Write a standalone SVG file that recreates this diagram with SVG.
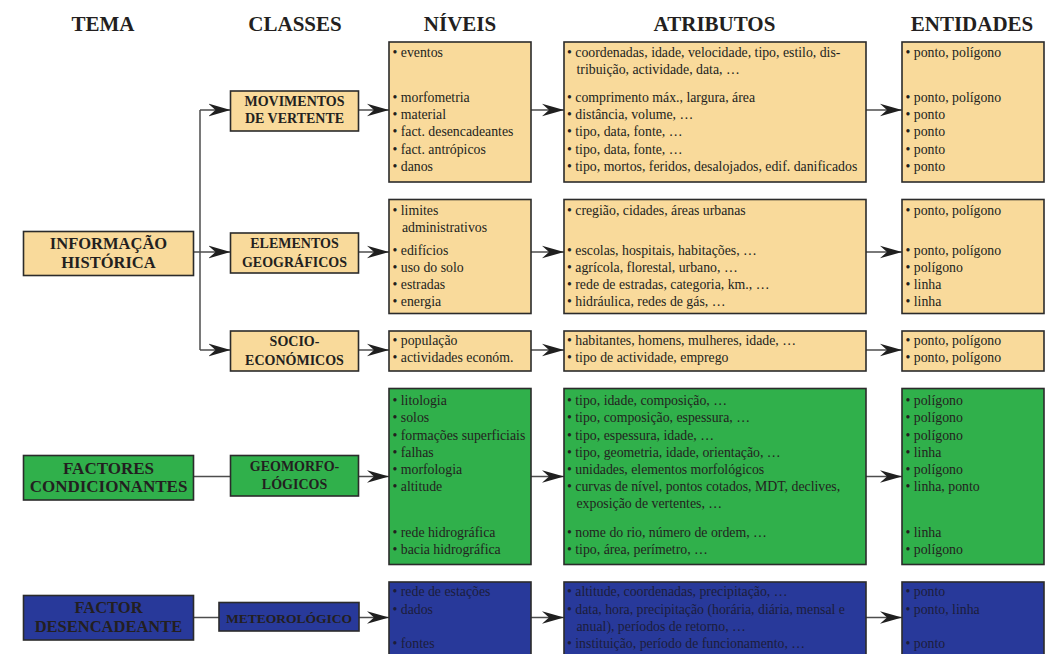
<svg xmlns="http://www.w3.org/2000/svg" width="1047" height="654" viewBox="0 0 1047 654">
<style>
.hdr{font-family:'Liberation Serif',serif;font-weight:bold;font-size:21px;fill:#231f20;text-anchor:middle}
.th{font-family:'Liberation Serif',serif;font-weight:bold;font-size:16.5px;fill:#231f20;text-anchor:middle}
.cl{font-family:'Liberation Serif',serif;font-weight:bold;font-size:14px;fill:#231f20;text-anchor:middle}
.t{font-family:'Liberation Serif',serif;font-size:13.8px;fill:#231f20}
.tb{font-family:'Liberation Serif',serif;font-size:13.8px;fill:#1c1d3a}
.y{fill:#F9DA9B;stroke:#2b2b2b;stroke-width:1.6}
.g{fill:#30B04B;stroke:#2b2b2b;stroke-width:1.6}
.b{fill:#28399A;stroke:#2b2b2b;stroke-width:1.6}
.c{stroke:#4d4d4d;stroke-width:1.5;fill:none}
.a{marker-end:url(#ah)}
</style>
<defs>
<marker id="ah" markerUnits="userSpaceOnUse" markerWidth="24" markerHeight="14" refX="22" refY="7" orient="auto">
<path d="M0,0.7 L22,7 L0,13.3 L7,7 Z" fill="#1f1f1f"/>
</marker>
</defs>

<g id="headers">
<text class="hdr" x="103" y="31">TEMA</text>
<text class="hdr" x="295" y="31">CLASSES</text>
<text class="hdr" x="460" y="31">NÍVEIS</text>
<text class="hdr" x="714.5" y="31">ATRIBUTOS</text>
<text class="hdr" x="972" y="31">ENTIDADES</text>
</g>

<g id="connectors">
<path class="c" d="M200,110 V350"/>
<path class="c a" d="M193,252 H230.5"/>
<path class="c a" d="M200,110 H230.5"/>
<path class="c a" d="M200,350 H230.5"/>
<path class="c a" d="M358.5,110 H389"/>
<path class="c a" d="M531,110 H564"/>
<path class="c a" d="M866,110 H902"/>
<path class="c a" d="M358.5,252 H389"/>
<path class="c a" d="M531,252 H564"/>
<path class="c a" d="M866,252 H902"/>
<path class="c a" d="M358.5,350 H389"/>
<path class="c a" d="M531,350 H564"/>
<path class="c a" d="M866,350 H902"/>
<path class="c" d="M193,476.5 H230.5"/>
<path class="c a" d="M358.5,476.5 H389"/>
<path class="c a" d="M531,476.5 H564"/>
<path class="c a" d="M866,476.5 H902"/>
<path class="c" d="M193,617.5 H219"/>
<path class="c a" d="M359,617.5 H389"/>
<path class="c a" d="M531,617.5 H564"/>
<path class="c a" d="M866,617.5 H902"/>
</g>

<g id="informacao-historica">
<rect class="y" x="23.5" y="231.5" width="170" height="44"/>
<text class="th" x="108.5" y="249.3">INFORMAÇÃO</text>
<text class="th" x="108.5" y="267.7">HISTÓRICA</text>
</g>
<g id="factores-condicionantes">
<rect class="g" x="23.5" y="455.5" width="170" height="44.5"/>
<text class="th" x="108.5" y="474.3" style="font-size:17px">FACTORES</text>
<text class="th" x="108.5" y="492.3" style="font-size:17px">CONDICIONANTES</text>
</g>
<g id="factor-desencadeante">
<rect class="b" x="23.5" y="595.5" width="170" height="44.5"/>
<text class="th" x="108.5" y="612.7">FACTOR</text>
<text class="th" x="108.5" y="631.7">DESENCADEANTE</text>
</g>

<g id="movimentos">
<rect class="y" x="230.5" y="91" width="128" height="40"/>
<text class="cl" x="294.5" y="105.7">MOVIMENTOS</text>
<text class="cl" x="294.5" y="123.3">DE VERTENTE</text>
</g>
<g id="elementos">
<rect class="y" x="230.5" y="233" width="128" height="40"/>
<text class="cl" x="294.5" y="248.3">ELEMENTOS</text>
<text class="cl" x="294.5" y="266.7">GEOGRÁFICOS</text>
</g>
<g id="socio">
<rect class="y" x="230.5" y="331" width="128" height="40"/>
<text class="cl" x="294.5" y="346">SOCIO-</text>
<text class="cl" x="294.5" y="365">ECONÓMICOS</text>
</g>
<g id="geomorfo">
<rect class="g" x="230.5" y="455.5" width="128" height="40.5"/>
<text class="cl" x="294.5" y="470.7">GEOMORFO-</text>
<text class="cl" x="294.5" y="489.3">LÓGICOS</text>
</g>
<g id="meteorologico">
<rect class="b" x="219" y="602.5" width="140" height="28.5"/>
<text class="cl" x="289" y="622.7" style="font-size:13.5px">METEOROLÓGICO</text>
</g>

<g id="niveis-movimentos">
<rect class="y" x="389" y="42" width="142" height="140"/>
<text class="t" x="392.5" y="57">• eventos</text>
<text class="t" x="392.5" y="102">• morfometria</text>
<text class="t" x="392.5" y="119.2">• material</text>
<text class="t" x="392.5" y="136.4">• fact. desencadeantes</text>
<text class="t" x="392.5" y="153.6">• fact. antrópicos</text>
<text class="t" x="392.5" y="170.8">• danos</text>
</g>
<g id="atributos-movimentos">
<rect class="y" x="564" y="42" width="302" height="140"/>
<text class="t" x="567" y="57">• coordenadas, idade, velocidade, tipo, estilo, dis-</text>
<text class="t" x="576.5" y="74.2">tribuição, actividade, data, …</text>
<text class="t" x="567" y="102">• comprimento máx., largura, área</text>
<text class="t" x="567" y="119.2">• distância, volume, …</text>
<text class="t" x="567" y="136.4">• tipo, data, fonte, …</text>
<text class="t" x="567" y="153.6">• tipo, data, fonte, …</text>
<text class="t" x="567" y="170.8">• tipo, mortos, feridos, desalojados, edif. danificados</text>
</g>
<g id="entidades-movimentos">
<rect class="y" x="902" y="42" width="142" height="140"/>
<text class="t" x="905.5" y="57">• ponto, polígono</text>
<text class="t" x="905.5" y="102">• ponto, polígono</text>
<text class="t" x="905.5" y="119.2">• ponto</text>
<text class="t" x="905.5" y="136.4">• ponto</text>
<text class="t" x="905.5" y="153.6">• ponto</text>
<text class="t" x="905.5" y="170.8">• ponto</text>
</g>

<g id="niveis-elementos">
<rect class="y" x="389" y="199.5" width="142" height="114"/>
<text class="t" x="392.5" y="214.5">• limites</text>
<text class="t" x="402" y="231.7">administrativos</text>
<text class="t" x="392.5" y="254.5">• edifícios</text>
<text class="t" x="392.5" y="271.7">• uso do solo</text>
<text class="t" x="392.5" y="288.9">• estradas</text>
<text class="t" x="392.5" y="306.1">• energia</text>
</g>
<g id="atributos-elementos">
<rect class="y" x="564" y="199.5" width="302" height="114"/>
<text class="t" x="567" y="214.5">• cregião, cidades, áreas urbanas</text>
<text class="t" x="567" y="254.5">• escolas, hospitais, habitações, …</text>
<text class="t" x="567" y="271.7">• agrícola, florestal, urbano, …</text>
<text class="t" x="567" y="288.9">• rede de estradas, categoria, km., …</text>
<text class="t" x="567" y="306.1">• hidráulica, redes de gás, …</text>
</g>
<g id="entidades-elementos">
<rect class="y" x="902" y="199.5" width="142" height="114"/>
<text class="t" x="905.5" y="214.5">• ponto, polígono</text>
<text class="t" x="905.5" y="254.5">• ponto, polígono</text>
<text class="t" x="905.5" y="271.7">• polígono</text>
<text class="t" x="905.5" y="288.9">• linha</text>
<text class="t" x="905.5" y="306.1">• linha</text>
</g>

<g id="niveis-socio">
<rect class="y" x="389" y="331" width="142" height="40"/>
<text class="t" x="392.5" y="344.5">• população</text>
<text class="t" x="392.5" y="361.7">• actividades económ.</text>
</g>
<g id="atributos-socio">
<rect class="y" x="564" y="331" width="302" height="40"/>
<text class="t" x="567" y="344.5">• habitantes, homens, mulheres, idade, …</text>
<text class="t" x="567" y="361.7">• tipo de actividade, emprego</text>
</g>
<g id="entidades-socio">
<rect class="y" x="902" y="331" width="142" height="40"/>
<text class="t" x="905.5" y="344.5">• ponto, polígono</text>
<text class="t" x="905.5" y="361.7">• ponto, polígono</text>
</g>

<g id="niveis-geomorfo">
<rect class="g" x="389" y="388.5" width="142" height="176"/>
<text class="t" x="392.5" y="405.2">• litologia</text>
<text class="t" x="392.5" y="422.4">• solos</text>
<text class="t" x="392.5" y="439.6">• formações superficiais</text>
<text class="t" x="392.5" y="456.8">• falhas</text>
<text class="t" x="392.5" y="474">• morfologia</text>
<text class="t" x="392.5" y="491.2">• altitude</text>
<text class="t" x="392.5" y="536.5">• rede hidrográfica</text>
<text class="t" x="392.5" y="553.7">• bacia hidrográfica</text>
</g>
<g id="atributos-geomorfo">
<rect class="g" x="564" y="388.5" width="302" height="176"/>
<text class="t" x="567" y="405.2">• tipo, idade, composição, …</text>
<text class="t" x="567" y="422.4">• tipo, composição, espessura, …</text>
<text class="t" x="567" y="439.6">• tipo, espessura, idade, …</text>
<text class="t" x="567" y="456.8">• tipo, geometria, idade, orientação, …</text>
<text class="t" x="567" y="474">• unidades, elementos morfológicos</text>
<text class="t" x="567" y="491.2">• curvas de nível, pontos cotados, MDT, declives,</text>
<text class="t" x="576.5" y="508.4">exposição de vertentes, …</text>
<text class="t" x="567" y="536.5">• nome do rio, número de ordem, …</text>
<text class="t" x="567" y="553.7">• tipo, área, perímetro, …</text>
</g>
<g id="entidades-geomorfo">
<rect class="g" x="902" y="388.5" width="142" height="176"/>
<text class="t" x="905.5" y="405.2">• polígono</text>
<text class="t" x="905.5" y="422.4">• polígono</text>
<text class="t" x="905.5" y="439.6">• polígono</text>
<text class="t" x="905.5" y="456.8">• linha</text>
<text class="t" x="905.5" y="474">• polígono</text>
<text class="t" x="905.5" y="491.2">• linha, ponto</text>
<text class="t" x="905.5" y="536.5">• linha</text>
<text class="t" x="905.5" y="553.7">• polígono</text>
</g>

<g id="niveis-meteo">
<rect class="b" x="389" y="582" width="142" height="80"/>
<text class="tb" x="392.5" y="596.3">• rede de estações</text>
<text class="tb" x="392.5" y="613.5">• dados</text>
<text class="tb" x="392.5" y="647.9">• fontes</text>
</g>
<g id="atributos-meteo">
<rect class="b" x="564" y="582" width="302" height="80"/>
<text class="tb" x="567" y="596.3">• altitude, coordenadas, precipitação, …</text>
<text class="tb" x="567" y="613.5">• data, hora, precipitação (horária, diária, mensal e</text>
<text class="tb" x="576.5" y="630.7">anual), períodos de retorno, …</text>
<text class="tb" x="567" y="647.9">• instituição, período de funcionamento, …</text>
</g>
<g id="entidades-meteo">
<rect class="b" x="902" y="582" width="142" height="80"/>
<text class="tb" x="905.5" y="596.3">• ponto</text>
<text class="tb" x="905.5" y="613.5">• ponto, linha</text>
<text class="tb" x="905.5" y="647.9">• ponto</text>
</g>
</svg>
